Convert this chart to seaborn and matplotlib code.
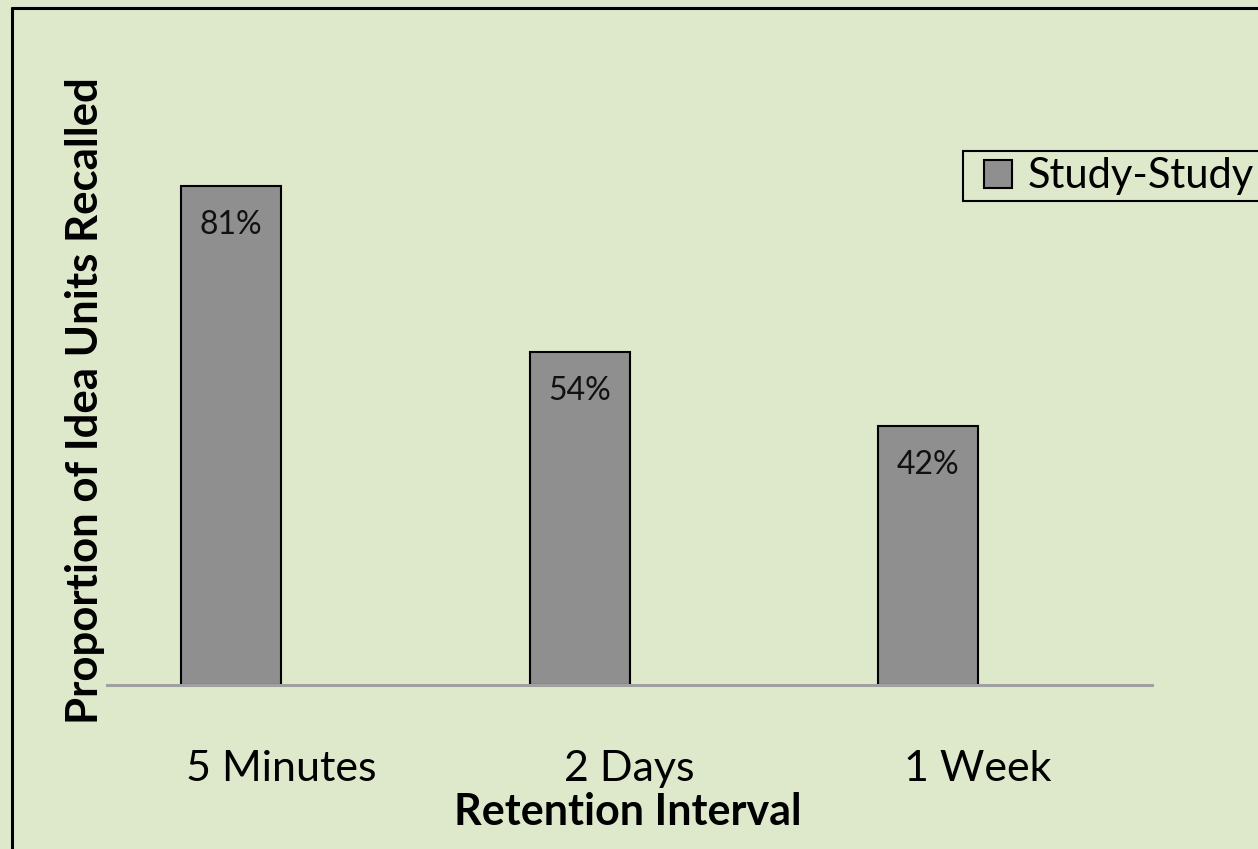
import matplotlib
matplotlib.use("Agg")
import matplotlib.pyplot as plt
from matplotlib.lines import Line2D
import seaborn as sns
import pandas as pd

# Recall data
intervals = ["5 Minutes", "2 Days", "1 Week"]
recall = [0.81, 0.54, 0.42]
condition = "Study-Study"

BG = "#dee8cb"
BAR = "#8f8f8f"

sns.set_theme(style="white")
plt.rcParams["font.family"] = ["Lato", "DejaVu Sans"]
plt.rcParams["text.color"] = "black"
plt.rcParams["axes.labelcolor"] = "black"

W, H = 1258, 849
fig = plt.figure(figsize=(W / 100, H / 100), dpi=100, facecolor=BG)
ax = fig.add_axes([107 / W, 164 / H, (1152 - 107) / W, 616.5 / H])
ax.set_facecolor(BG)

# Bars sit on the left half of each category slot
bar_w = 0.287
pos = [i - bar_w / 2 for i in range(len(intervals))]
df = pd.DataFrame({"pos": pos, "recall": recall, "interval": intervals})

sns.barplot(data=df, x="pos", y="recall", native_scale=True, width=bar_w,
            color=BAR, saturation=1, edgecolor="black", linewidth=1.5,
            ax=ax)

for p, v in zip(pos, recall):
    ax.annotate(f"{round(v * 100)}%", xy=(p, v), xytext=(0, -28),
                textcoords="offset points", ha="center", va="center",
                fontsize=23, color="#111111")

ax.set_xlim(-0.5, 2.5)
ax.set_ylim(0, 1.0)
ax.set_xticks(range(len(intervals)))
ax.set_xticklabels(intervals, fontsize=31)
ax.set_yticks([])
ax.tick_params(axis="x", length=0, pad=47, colors="black")

for s in ["top", "right", "left"]:
    ax.spines[s].set_visible(False)
ax.spines["bottom"].set_color("#a0a0a0")
ax.spines["bottom"].set_linewidth(2.2)

ax.set_xlabel("Retention Interval", fontsize=31, fontweight="bold")
ax.set_ylabel("Proportion of Idea Units Recalled", fontsize=31.5, fontweight="bold")
ax.xaxis.set_label_coords(0.4986, -0.206)
ax.xaxis.label.set_va("center")
ax.yaxis.set_label_coords(-0.0211, 0.462)
ax.yaxis.label.set_va("center")

# Legend with a square swatch matching the bar style
swatch = Line2D([], [], linestyle="none", marker="s", markersize=20,
                markerfacecolor=BAR, markeredgecolor="black", markeredgewidth=1.5)
leg = ax.legend([swatch], [condition], loc="upper left",
                bbox_to_anchor=(963 / W, 1 - 151 / H),
                bbox_transform=fig.transFigure, fontsize=30, frameon=True,
                fancybox=False, handlelength=1.4, handletextpad=0.0,
                borderpad=0.15, borderaxespad=0)
leg.get_frame().set_edgecolor("black")
leg.get_frame().set_linewidth(1.5)
leg.get_frame().set_facecolor(BG)
leg.get_frame().set_alpha(1)

# Outer frame along the left and top edges
fig.add_artist(Line2D([12 / W, 12 / W], [0, 1 - 8 / H], transform=fig.transFigure,
                      color="black", linewidth=2.2))
fig.add_artist(Line2D([12 / W, 1], [1 - 8 / H, 1 - 8 / H], transform=fig.transFigure,
                      color="black", linewidth=2.2))

fig.savefig("out.png", dpi=100, facecolor=BG)
